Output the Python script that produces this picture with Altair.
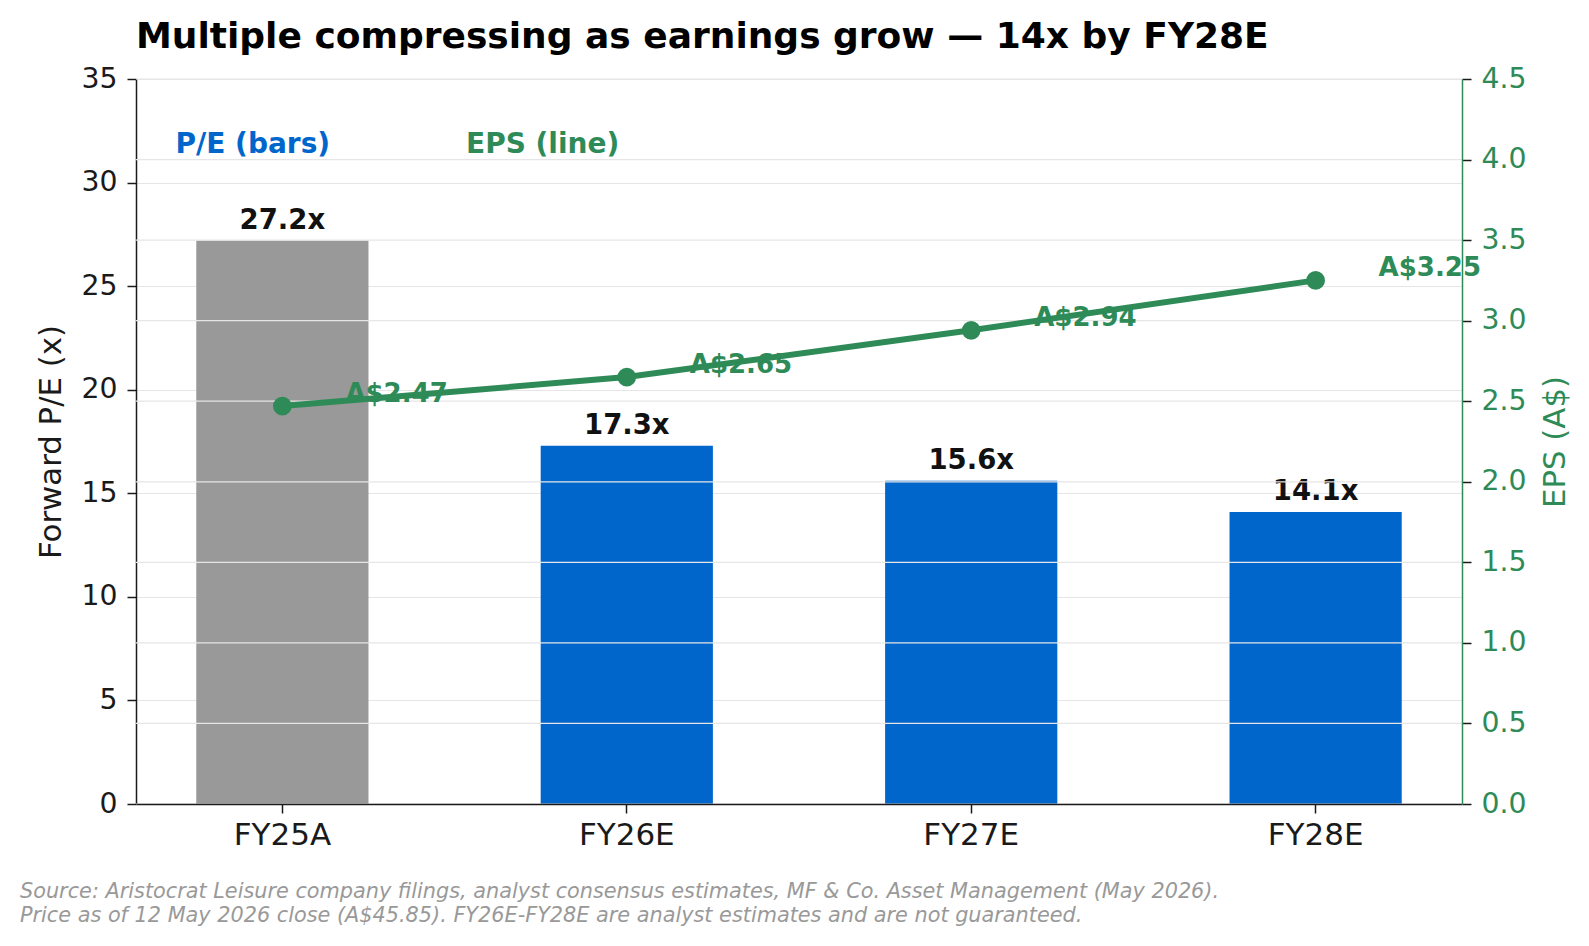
import altair as alt
import pandas as pd

# ---- data ----
years = ["FY25A", "FY26E", "FY27E", "FY28E"]
pe_values = [27.2, 17.3, 15.6, 14.1]
eps_values = [2.47, 2.65, 2.94, 3.25]
bar_group = ["Actual", "Estimate", "Estimate", "Estimate"]
pe_labels = ["27.2x", "17.3x", "15.6x", "14.1x"]
eps_labels = ["A$2.47", "A$2.65", "A$2.94", "A$3.25"]
pe_ticks = [0, 5, 10, 15, 20, 25, 30, 35]
eps_ticks = [0.0, 0.5, 1.0, 1.5, 2.0, 2.5, 3.0, 3.5, 4.0, 4.5]
title_text = "Multiple compressing as earnings grow — 14x by FY28E"
series_labels = ["P/E (bars)", "EPS (line)"]
footer_lines = [
    "Source: Aristocrat Leisure company filings, analyst consensus estimates, MF & Co. Asset Management (May 2026).",
    "Price as of 12 May 2026 close (A$45.85). FY26E-FY28E are analyst estimates and are not guaranteed.",
]

INK = "#1a1a1a"
GREEN = "#2e8b57"
BLUE = "#0066cc"
GRAY = "#999999"
GRID = "#e6e6e6"
W, H = 1326, 725

df = pd.DataFrame({
    "year": years, "pe": pe_values, "eps": eps_values,
    "group": bar_group, "pe_label": pe_labels, "eps_label": eps_labels,
})
grid_df = pd.DataFrame({"tick": eps_ticks})

x_enc = alt.X(
    "year:N", sort=years,
    scale=alt.Scale(paddingInner=0.5, paddingOuter=0.175),
    axis=alt.Axis(title=None, labelAngle=0, labelFontSize=31, labelColor=INK,
                  labelPadding=7, tickSize=9, tickWidth=1.5, tickColor=INK,
                  domainColor=INK, domainWidth=1.5, grid=False, zindex=1),
)

pe_axis = alt.Axis(
    values=pe_ticks, labelFontSize=28.3, labelColor=INK, labelPadding=10,
    tickSize=9, tickWidth=1.5, tickColor=INK, domainColor=INK, domainWidth=1.5,
    grid=True, gridColor=GRID, gridWidth=1.2,
    title="Forward P/E (x)", titleFontSize=30.8, titleFontWeight="normal",
    titleColor=INK, titleAngle=270, titleBaseline="alphabetic", titleAlign="center",
    titleX=-76, titleY=H / 2,
)
pe_scale = alt.Scale(domain=[0, 35], nice=False)
pe_y = alt.Y("pe:Q", scale=pe_scale, axis=pe_axis)

eps_scale = alt.Scale(domain=[0, 4.5], nice=False)
eps_axis = alt.Axis(
    orient="right", values=eps_ticks, format=".1f", labelFontSize=28.3,
    labelColor=GREEN, labelPadding=10, tickSize=9, tickWidth=1.5, tickColor=INK,
    domainColor=GREEN, domainWidth=1.5, grid=False,
    title="EPS (A$)", titleFontSize=30.8, titleFontWeight="normal", titleColor=GREEN,
    titleAngle=270, titleBaseline="alphabetic", titleAlign="center",
    titleX=102, titleY=H / 2, zindex=1,
)

bars = alt.Chart(df).mark_bar().encode(
    x=x_enc, y=pe_y,
    color=alt.Color("group:N", scale=alt.Scale(domain=["Actual", "Estimate"], range=[GRAY, BLUE]), legend=None),
)
bar_text = alt.Chart(df).mark_text(
    fontSize=27.5, fontWeight="bold", color="#111111", baseline="alphabetic", dy=-12
).encode(x=x_enc, y=pe_y, text="pe_label:N")
layer_a = alt.layer(bars, bar_text)

rules = alt.Chart(grid_df).mark_rule(color=GRID, strokeWidth=1.2).encode(
    y=alt.Y("tick:Q", scale=eps_scale, axis=eps_axis)
)
eps_y = alt.Y("eps:Q", scale=eps_scale, axis=eps_axis)
eps_text = alt.Chart(df).mark_text(
    fontSize=26, fontWeight="bold", color=GREEN, align="left", baseline="alphabetic", dx=63, dy=-4
).encode(x=x_enc, y=eps_y, text="eps_label:N")
line = alt.Chart(df).mark_line(color=GREEN, strokeWidth=6).encode(x=x_enc, y=eps_y)
points = alt.Chart(df).mark_circle(color=GREEN, size=350, opacity=1).encode(x=x_enc, y=eps_y)
layer_b = alt.layer(rules, eps_text, line, points)


def note(text, x, y, **kw):
    return alt.Chart(pd.DataFrame({"t": [text]})).mark_text(
        align="left", baseline="alphabetic", **kw
    ).encode(x=alt.value(x), y=alt.value(y), text="t:N")


title_mark = note(title_text, 0, -30.7, fontSize=36, fontWeight="bold", color="#000000")
pe_note = note(series_labels[0], 39.5, 74, fontSize=28, fontWeight="bold", color=BLUE)
eps_note = note(series_labels[1], 330, 74, fontSize=28, fontWeight="bold", color=GREEN)
foot1 = note(footer_lines[0], -116, 819.3, fontSize=20.8, fontStyle="italic", color=GRAY)
foot2 = note(footer_lines[1], -116, 842.7, fontSize=20.8, fontStyle="italic", color=GRAY)

chart = (
    alt.layer(layer_a, layer_b, title_mark, pe_note, eps_note, foot1, foot2)
    .resolve_scale(y="independent")
    .properties(
        width=W, height=H,
        padding={"left": 128, "top": 71, "right": 110, "bottom": 130},
        autosize=alt.AutoSizeParams(type="none"),
    )
    .configure(font="DejaVu Sans")
    .configure_view(stroke=None)
)

chart.save("out.html", embed_options={"renderer": "svg", "actions": False})
